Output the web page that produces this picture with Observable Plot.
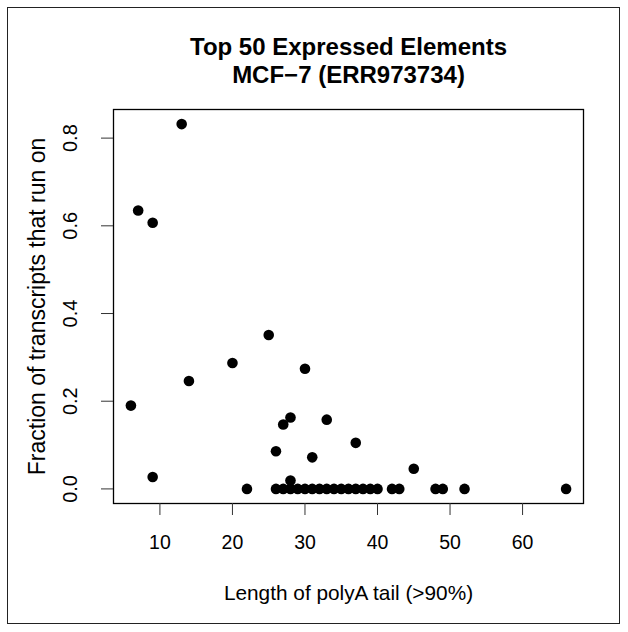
<!DOCTYPE html>
<html>
<head>
<meta charset="utf-8">
<script src="https://cdn.jsdelivr.net/npm/d3@7"></script>
<script src="https://cdn.jsdelivr.net/npm/@observablehq/plot@0.6"></script>
<style>
  html, body { margin: 0; padding: 0; background: white; }
  #wrap { position: relative; width: 628px; height: 632px; }
  #border { position: absolute; left: 7px; top: 7px; width: 613px; height: 617px; border: 1.5px solid #222; box-sizing: border-box; pointer-events: none; }
</style>
</head>
<body>
<div id="wrap"><div id="border"></div></div>
<script>
const titleLines = ["Top 50 Expressed Elements", "MCF\u22127 (ERR973734)"];
const xLabel = "Length of polyA tail (>90%)";
const yLabel = "Fraction of transcripts that run on";
const xTicks = [10, 20, 30, 40, 50, 60];
const yTicks = [0.0, 0.2, 0.4, 0.6, 0.8];

// Points
const polyALength = [6, 7, 9, 9, 13, 14, 20, 25, 26, 27, 28, 28, 30, 31, 33, 37, 45,
  22, 26, 27, 28, 29, 30, 31, 32, 33, 34, 35, 36, 37, 38, 39, 40, 42, 43, 48, 49, 52, 66];
const runOnFraction = [0.19, 0.635, 0.607, 0.027, 0.832, 0.246, 0.287, 0.351, 0.086, 0.147, 0.163, 0.019, 0.274, 0.072, 0.158, 0.105, 0.046,
  0, 0, 0, 0, 0, 0, 0, 0, 0, 0, 0, 0, 0, 0, 0, 0, 0, 0, 0, 0, 0, 0];

const data = polyALength.map((x, i) => ({x, y: runOnFraction[i]}));

const xMin = d3.min(polyALength), xMax = d3.max(polyALength);
const yMin = d3.min(runOnFraction), yMax = d3.max(runOnFraction);
const xPad = (xMax - xMin) * 0.04, yPad = (yMax - yMin) * 0.04;

const font = "'Liberation Sans', Arial, Helvetica, sans-serif";

const chart = Plot.plot({
  width: 628,
  height: 632,
  marginLeft: 113,
  marginRight: 45,
  marginTop: 109,
  marginBottom: 129,
  style: {fontFamily: font, background: "transparent", color: "black"},
  x: {domain: [xMin - xPad, xMax + xPad]},
  y: {domain: [yMin - yPad, yMax + yPad]},
  marks: [
    Plot.frame({stroke: "black", strokeWidth: 1.3}),
    Plot.axisX(xTicks, {tickSize: 12, tickPadding: 20, fontSize: 19.5, label: null, stroke: "#333", fill: "black"}),
    Plot.axisY(yTicks, {tickSize: 12, tickFormat: () => "", label: null, stroke: "#333"}),
    Plot.text(yTicks, {y: d => d, text: d => d.toFixed(1), frameAnchor: "left", rotate: -90, dx: -43, fontSize: 20, textAnchor: "middle", lineAnchor: "middle", fill: "black"}),
    Plot.text([yLabel], {text: d => d, frameAnchor: "left", rotate: -90, dx: -76, fontSize: 23, textAnchor: "middle", lineAnchor: "middle", fill: "black"}),
    Plot.text([xLabel], {text: d => d, frameAnchor: "bottom", dy: 90, fontSize: 20.8, lineAnchor: "middle", fill: "black"}),
    Plot.text([titleLines[0]], {text: d => d, frameAnchor: "top", dy: -62, fontSize: 24, fontWeight: "bold", lineAnchor: "middle", fill: "black"}),
    Plot.text([titleLines[1]], {text: d => d, frameAnchor: "top", dy: -34, fontSize: 24, fontWeight: "bold", lineAnchor: "middle", fill: "black"}),
    Plot.dot(data, {x: "x", y: "y", r: 5.3, fill: "black", stroke: null})
  ]
});
document.getElementById("wrap").prepend(chart);
</script>
</body>
</html>
